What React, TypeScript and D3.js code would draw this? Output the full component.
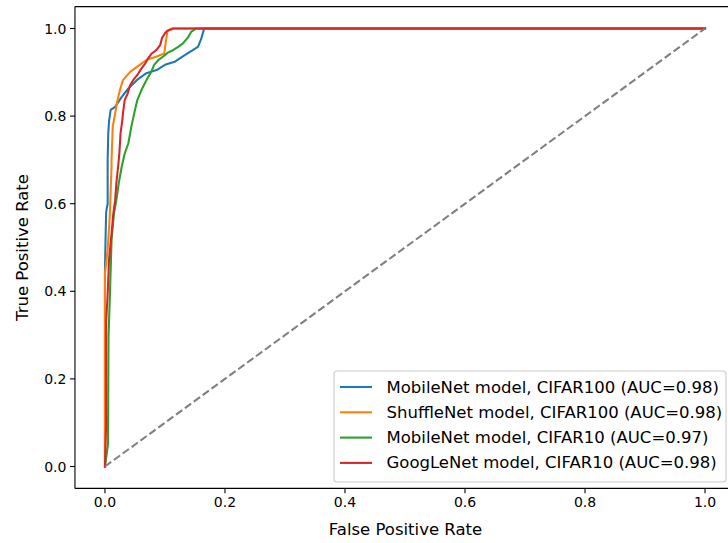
import React from "react";
import * as d3 from "d3";

const W = 728;
const H = 543;

const seriesNames = [
  "MobileNet model, CIFAR100 (AUC=0.98)",
  "ShuffleNet model, CIFAR100 (AUC=0.98)",
  "MobileNet model, CIFAR10 (AUC=0.97)",
  "GoogLeNet model, CIFAR10 (AUC=0.98)",
];
const seriesColors = ["#1f77b4", "#ff7f0e", "#2ca02c", "#d62728"];

const mobilenet100: [number, number][] = [
  [0, 0], [0, 0.45], [0.001, 0.52], [0.002, 0.58], [0.003, 0.59], [0.0045, 0.6],
  [0.0045, 0.7], [0.0055, 0.761], [0.007, 0.791], [0.0095, 0.814], [0.017, 0.821],
  [0.028, 0.844], [0.039, 0.863], [0.053, 0.882], [0.069, 0.898], [0.086, 0.905],
  [0.1, 0.917], [0.116, 0.924], [0.133, 0.939], [0.147, 0.951], [0.155, 0.958],
  [0.16, 0.975], [0.165, 0.998], [0.166, 1], [1, 1],
];
const shufflenet100: [number, number][] = [
  [0, 0], [0, 0.441], [0.0045, 0.494], [0.008, 0.57], [0.011, 0.685], [0.011, 0.7],
  [0.013, 0.776], [0.017, 0.806], [0.021, 0.837], [0.025, 0.86], [0.03, 0.882],
  [0.042, 0.901], [0.058, 0.917], [0.069, 0.928], [0.086, 0.936], [0.099, 0.943],
  [0.101, 0.966], [0.104, 0.993], [0.108, 0.998], [0.11, 1], [1, 1],
];
const mobilenet10: [number, number][] = [
  [0, 0], [0.005, 0.05], [0.006, 0.3], [0.008, 0.38], [0.01, 0.471], [0.011, 0.517],
  [0.013, 0.548], [0.015, 0.578], [0.019, 0.608], [0.023, 0.647], [0.028, 0.685],
  [0.033, 0.715], [0.039, 0.738], [0.044, 0.776], [0.05, 0.814], [0.054, 0.837],
  [0.061, 0.86], [0.069, 0.882], [0.077, 0.901], [0.082, 0.917], [0.089, 0.928],
  [0.097, 0.936], [0.105, 0.945], [0.114, 0.951], [0.122, 0.958], [0.13, 0.966],
  [0.139, 0.981], [0.144, 0.993], [0.15, 0.998], [0.152, 1], [1, 1],
];
const googlenet10: [number, number][] = [
  [0, 0], [0.002, 0.1], [0.002, 0.33], [0.004, 0.38], [0.0055, 0.426], [0.0067, 0.471],
  [0.01, 0.517], [0.014, 0.578], [0.017, 0.608], [0.019, 0.647], [0.022, 0.685],
  [0.024, 0.715], [0.026, 0.761], [0.029, 0.791], [0.03, 0.806], [0.033, 0.837],
  [0.038, 0.852], [0.042, 0.871], [0.047, 0.882], [0.055, 0.896], [0.061, 0.909],
  [0.067, 0.92], [0.072, 0.932], [0.078, 0.943], [0.086, 0.951], [0.092, 0.962],
  [0.095, 0.978], [0.1, 0.989], [0.104, 0.995], [0.111, 0.998], [0.113, 1], [1, 1],
];
const seriesData = [mobilenet100, shufflenet100, mobilenet10, googlenet10];
const diagonal: [number, number][] = [[0, 0], [1, 1]];

const xTicks = [0, 0.2, 0.4, 0.6, 0.8, 1.0];
const yTicks = [0, 0.2, 0.4, 0.6, 0.8, 1.0];

export default function App() {
  const x = d3.scaleLinear().domain([-0.05, 1.05]).range([74.95, 735.05]);
  const y = d3.scaleLinear().domain([-0.05, 1.05]).range([488.4, 6.6]);
  const line = d3
    .line<[number, number]>()
    .x((d) => x(d[0]))
    .y((d) => y(d[1]));
  const font = "DejaVu Sans, sans-serif";
  const fs = 14;
  const fsL = 16.5;
  const [x0, x1] = x.range();
  const [y0, y1] = y.range();

  const legX = 334;
  const legY = 371;
  const legW = 392;
  const legH = 111;
  const rowH = 25.3;

  return (
    <svg
      width={W}
      height={H}
      style={{ position: "absolute", left: 0, top: 0, background: "#fff" }}
      fontFamily={font}
    >
      <rect x={0} y={0} width={W} height={H} fill="#fff" />
      <defs>
        <clipPath id="plot">
          <rect x={x0} y={y1} width={x1 - x0} height={y0 - y1} />
        </clipPath>
      </defs>
      <g clipPath="url(#plot)">
        {seriesData.map((d, i) => (
          <path
            key={i}
            d={line(d) || ""}
            fill="none"
            stroke={seriesColors[i]}
            strokeWidth={2.08}
            strokeLinejoin="round"
            strokeLinecap="square"
          />
        ))}
        <path
          d={line(diagonal) || ""}
          fill="none"
          stroke="#808080"
          strokeWidth={2.08}
          strokeDasharray="7.7,3.3"
        />
      </g>
      {/* spines */}
      <g stroke="#000" strokeWidth={1.1} fill="none">
        <line x1={x0} x2={x0} y1={y1} y2={y0} />
        <line x1={x0} x2={x1} y1={y0} y2={y0} />
        <line x1={x0} x2={x1} y1={y1} y2={y1} />
        <line x1={x1} x2={x1} y1={y1} y2={y0} />
      </g>
      {/* x ticks */}
      {xTicks.map((t) => (
        <g key={"x" + t}>
          <line x1={x(t)} x2={x(t)} y1={y0} y2={y0 + 4.9} stroke="#000" strokeWidth={1.1} />
          <text x={x(t)} y={y0 + 8.5} fontSize={fs} textAnchor="middle" dominantBaseline="hanging" fill="#000">
            {t.toFixed(1)}
          </text>
        </g>
      ))}
      {/* y ticks */}
      {yTicks.map((t) => (
        <g key={"y" + t}>
          <line x1={x0 - 4.9} x2={x0} y1={y(t)} y2={y(t)} stroke="#000" strokeWidth={1.1} />
          <text x={x0 - 8.5} y={y(t)} fontSize={fs} textAnchor="end" dominantBaseline="central" fill="#000">
            {t.toFixed(1)}
          </text>
        </g>
      ))}
      <text x={405.5} y={535} fontSize={fsL} textAnchor="middle" fill="#000">
        False Positive Rate
      </text>
      <text
        transform={`translate(27.5, ${(y0 + y1) / 2}) rotate(-90)`}
        fontSize={fsL}
        textAnchor="middle"
        fill="#000"
      >
        True Positive Rate
      </text>
      {/* legend */}
      <rect
        x={legX}
        y={legY}
        width={legW}
        height={legH}
        rx={3}
        fill="#fff"
        fillOpacity={0.8}
        stroke="#cccccc"
        strokeWidth={1.1}
      />
      {seriesNames.map((name, i) => {
        const cy = legY + 16 + i * rowH;
        return (
          <g key={name}>
            <line x1={legX + 6} x2={legX + 38} y1={cy} y2={cy} stroke={seriesColors[i]} strokeWidth={2.08} />
            <text x={legX + 52.5} y={cy} fontSize={fsL} dominantBaseline="central" fill="#000">
              {name}
            </text>
          </g>
        );
      })}
    </svg>
  );
}
